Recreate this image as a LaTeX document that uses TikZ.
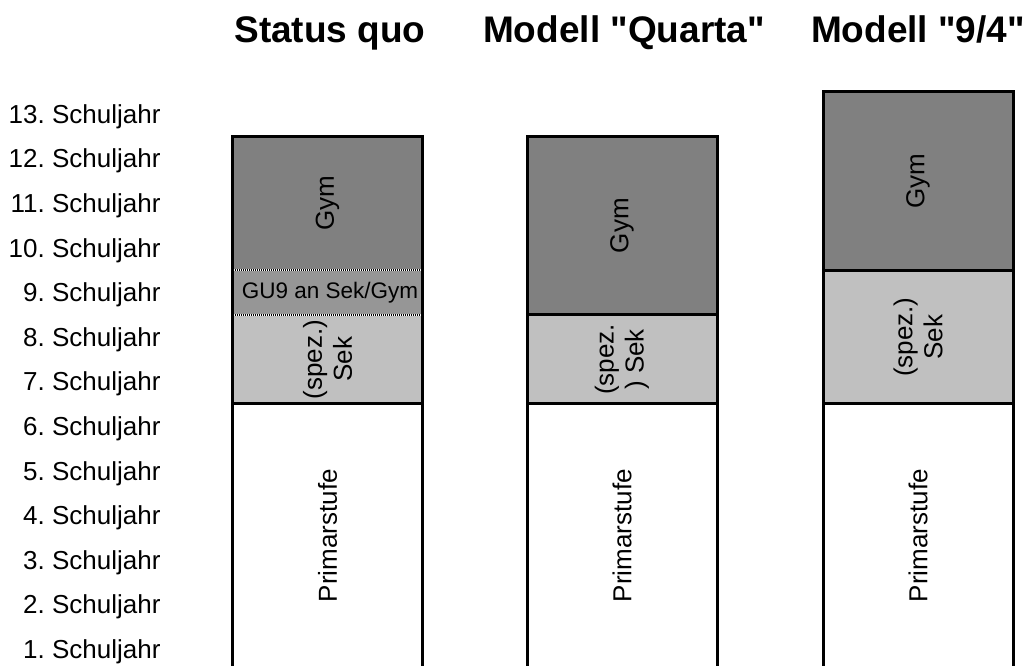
\documentclass[tikz,border=0pt]{standalone}
\usepackage{fontspec}
\setmainfont{Liberation Sans}[Ligatures=TeXOff]
\frenchspacing
\definecolor{gymfill}{RGB}{128,128,128}
\definecolor{gufill}{RGB}{150,150,150}
\definecolor{sekfill}{RGB}{192,192,192}
\tikzset{
  title/.style={anchor=base, font=\bfseries\fontsize{37}{42}\selectfont},
  year/.style={anchor=base east, font=\fontsize{26}{30}\selectfont},
  cell/.style={rotate=90, align=center, font=\fontsize{26}{30}\selectfont},
  border/.style={line width=3pt},
  gudots/.style={line width=2.5pt, dash pattern=on 1pt off 1pt}
}

\begin{document}
\begin{tikzpicture}[x=1pt, y=44.6pt]
  \useasboundingbox (0,0.1256) rectangle (1029,15.058);
  \clip (0,0.1256) rectangle (1029,15.058);
  \fill[white] (0,0.1256) rectangle (1029,15.058);

  \node[title] (t1) at (330,14.094) {Status quo};
  \node[title] (t2) at (624,14.094) {Modell "Quarta"};
  \node[title] (t3) at (918,14.094) {Modell "9/4"};

  \foreach \k in {1,...,13}
    \node[year, yshift=-9.3pt] (year\k) at (164,\k-0.5) {\k. Schuljahr};

  % status quo
  \fill[sekfill] (232.5,6) rectangle (422.5,8);
  \fill[gufill]  (232.5,8) rectangle (422.5,9);
  \fill[gymfill] (232.5,9) rectangle (422.5,12);
  \draw[white, line width=2.5pt] (232.5,8) -- (422.5,8) (232.5,9) -- (422.5,9);
  \draw[gudots] (232.5,8) -- (422.5,8) (232.5,9) -- (422.5,9);
  \draw[border] (232.5,0) |- (422.5,12) -- (422.5,0);
  \draw[border] (232.5,6) -- (422.5,6);
  \node[cell] (prim1) at (327.5,3.05) {Primarstufe};
  \node[cell] (sek1)  at (327.5,7)    {(spez.)\\Sek};
  \node[font=\fontsize{22.5}{26}\selectfont] (gu1) at (330,8.5) {GU9 an Sek/Gym};
  \node[cell] (gym1)  at (327.5,10.5) {Gym};

  % quarta
  \fill[sekfill] (527,6) rectangle (717,8);
  \fill[gymfill] (527,8) rectangle (717,12);
  \draw[border] (527,0) |- (717,12) -- (717,0);
  \draw[border] (527,6) -- (717,6) (527,8) -- (717,8);
  \node[cell] (prim2) at (622,3.05) {Primarstufe};
  \node[cell] (sek2)  at (622,7)    {(spez.\\) Sek};
  \node[cell] (gym2)  at (622,10)   {Gym};

  % 9/4
  \fill[sekfill] (823,6) rectangle (1013,9);
  \fill[gymfill] (823,9) rectangle (1013,13);
  \draw[border] (823,0) |- (1013,13) -- (1013,0);
  \draw[border] (823,6) -- (1013,6) (823,9) -- (1013,9);
  \node[cell] (prim3) at (918,3.05) {Primarstufe};
  \node[cell] (sek3)  at (918,7.5)  {(spez.)\\Sek};
  \node[cell] (gym3)  at (918,11)   {Gym};
\end{tikzpicture}
\end{document}
